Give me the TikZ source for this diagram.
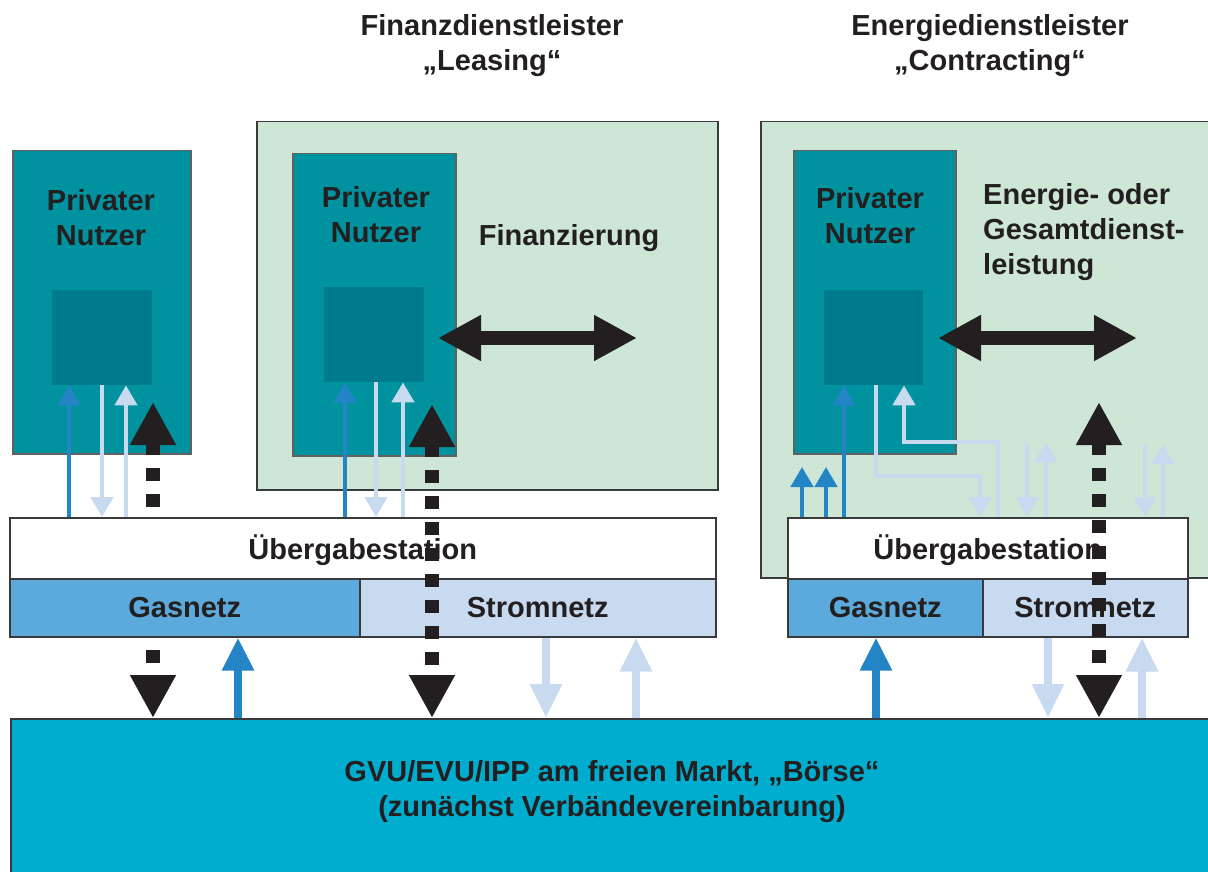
\documentclass[tikz,border=0pt]{standalone}
\usepackage{fontspec}
\setmainfont{Liberation Sans}
\usetikzlibrary{arrows.meta}
\definecolor{cteal}{HTML}{00939F}
\definecolor{cinner}{HTML}{007B8E}
\definecolor{cgreen}{HTML}{CDE6D5}
\definecolor{cgas}{HTML}{5CA9DC}
\definecolor{cstrom}{HTML}{C7DAF0}
\definecolor{cmarket}{HTML}{00ADCE}
\definecolor{cblue}{HTML}{2384C6}
\definecolor{clight}{HTML}{C7DAF0}
\definecolor{cblack}{HTML}{231F20}
\definecolor{cborder}{HTML}{3A3A3A}
\tikzset{
  txt/.style={font=\fontsize{29}{35}\selectfont\bfseries, align=center, inner sep=0pt, text=cblack},
  boxnw/.style={anchor=north west, inner sep=0pt, line width=1.5pt, draw=cborder},
  greenbox/.style={boxnw, fill=cgreen},
  privbox/.style={boxnw, fill=cteal, draw=cborder!80},
  innerbox/.style={anchor=north west, inner sep=0pt, fill=cinner},
  whitebox/.style={boxnw, fill=white},
  gasbox/.style={boxnw, fill=cgas},
  strombox/.style={boxnw, fill=cstrom},
  tb/.style={draw=cblue, line width=4.5pt, -{Triangle[width=22pt,length=20pt]}},
  tl/.style={draw=clight, line width=4.5pt, -{Triangle[width=22pt,length=20pt]}},
  fb/.style={draw=cblue, line width=8.5pt, -{Triangle[width=30pt,length=33pt]}},
  fl/.style={draw=clight, line width=8.5pt, -{Triangle[width=30pt,length=34pt]}},
  blk/.style={draw=cblack, line width=14pt, dash pattern=on 13pt off 13pt},
  bigtip/.tip={Triangle[width=43pt,length=43pt]},
  dbl/.style={draw=cblack, line width=14pt, bigtip-bigtip},
}
\begin{document}
\begin{tikzpicture}[x=1pt,y=-1pt]
\useasboundingbox (0,0) rectangle (1208,872);
% titles
\node[txt] (t1) at (492,46) {Finanzdienstleister\\„Leasing“};
\node[txt] (t2) at (990,46) {Energiedienstleister\\„Contracting“};
% green boxes
\node[greenbox, minimum width=461pt, minimum height=368pt] (g2) at (256,121) {};
\node[greenbox, minimum width=460pt, minimum height=456pt] (g3) at (760,121) {};
% private boxes
\node[privbox, minimum width=178pt, minimum height=303pt] (p1) at (12,150) {};
\node[privbox, minimum width=163pt, minimum height=302pt] (p2) at (292,153) {};
\node[privbox, minimum width=162pt, minimum height=303pt] (p3) at (793,150) {};
\node[innerbox, minimum width=100pt, minimum height=95pt] (i1) at (52,290) {};
\node[innerbox, minimum width=100pt, minimum height=95pt] (i2) at (324,287) {};
\node[innerbox, minimum width=99pt, minimum height=95pt] (i3) at (824,290) {};
\node[txt] (n1) at (101,218) {Privater\\Nutzer};
\node[txt] (n2) at (376,215) {Privater\\Nutzer};
\node[txt] (n3) at (870,216) {Privater\\Nutzer};
\node[txt] (fin) at (569,238) {Finanzierung};
\node[txt, align=left, anchor=west] (ene) at (983,232) {Energie- oder\\Gesamtdienst-\\leistung};
% stations and nets
\node[whitebox, minimum width=706pt, minimum height=61pt] (u1) at (9,517) {};
\node[gasbox, minimum width=350pt, minimum height=58pt] (gn1) at (9,578) {};
\node[strombox, minimum width=356pt, minimum height=58pt] (sn1) at (359,578) {};
\node[whitebox, minimum width=400pt, minimum height=61pt] (u2) at (787,517) {};
\node[gasbox, minimum width=195pt, minimum height=58pt] (gn2) at (787,578) {};
\node[strombox, minimum width=205pt, minimum height=58pt] (sn2) at (982,578) {};
\node[txt] (u1t) at ([yshift=-2pt]u1.center) {Übergabestation};
\node[txt] (u2t) at ([yshift=-2pt]u2.center) {Übergabestation};
\node[txt] (gn1t) at (gn1.center) {Gasnetz};
\node[txt] (sn1t) at (sn1.center) {Stromnetz};
\node[txt] (gn2t) at (gn2.center) {Gasnetz};
\node[txt] (sn2t) at (sn2.center) {Stromnetz};
% market
\node[boxnw, fill=cmarket, minimum width=1210pt, minimum height=160pt] (m) at (10,718) {};
\node[txt] (mt) at (612,792) {GVU/EVU/IPP am freien Markt, „Börse“\\(zunächst Verbändevereinbarung)};
% double arrows
\coordinate (fa) at (438,338); \coordinate (fb) at (637,338);
\coordinate (ea) at (938,338); \coordinate (eb) at (1137,338);
\draw[dbl] (fa) -- (fb);
\draw[dbl] (ea) -- (eb);
% left column
\draw[tb] (69,0 |- u1.north) -- (69,0 |- i1.south);
\draw[tl] (102,0 |- i1.south) -- (102,0 |- u1.north);
\draw[tl] (126,0 |- u1.north) -- (126,0 |- i1.south);
\coordinate (b1top) at (153,402); \coordinate (b1bot) at (153,507);
\draw[blk, bigtip-] (b1top) -- (b1bot);
\coordinate (b1c) at (153,650);
\draw[blk, -bigtip] (b1c) -- (153,0 |- m.north);
\draw[fb] (238,0 |- m.north) -- (238,0 |- gn1.south);
\draw[fl] (546,0 |- sn1.south) -- (546,0 |- m.north);
\draw[fl] (636,0 |- m.north) -- (636,0 |- sn1.south);
% middle column
\draw[tb] (345,0 |- u1.north) -- (345,0 |- i2.south);
\draw[tl] (376,0 |- i2.south) -- (376,0 |- u1.north);
\draw[tl] (403,0 |- u1.north) -- (403,0 |- i2.south);
\coordinate (b2top) at (432,404);
\draw[blk, bigtip-bigtip] (b2top) -- (432,0 |- m.north);
% right column
\coordinate (r1) at (802,467); \coordinate (r2) at (826,467);
\draw[tb] (802,0 |- u2.north) -- (r1);
\draw[tb] (826,0 |- u2.north) -- (r2);
\draw[tb] (844,0 |- u2.north) -- (844,0 |- i3.south);
\draw[tl] (876,0 |- i3.south) -- (876,476) -- (980,476) -- (980,0 |- u2.north);
\draw[tl] (998,0 |- u2.north) -- (998,442) -- (904,442) -- (904,0 |- i3.south);
\coordinate (r3) at (1027,443); \coordinate (r4) at (1046,442);
\coordinate (r5) at (1145,444); \coordinate (r6) at (1163,444);
\draw[tl] (r3) -- (1027,0 |- u2.north);
\draw[tl] (1046,0 |- u2.north) -- (r4);
\draw[tl] (r5) -- (1145,0 |- u2.north);
\draw[tl] (1163,0 |- u2.north) -- (r6);
\coordinate (b3top) at (1099,402);
\draw[blk, bigtip-bigtip] (b3top) -- (1099,0 |- m.north);
\draw[fb] (876,0 |- m.north) -- (876,0 |- gn2.south);
\draw[fl] (1048,0 |- sn2.south) -- (1048,0 |- m.north);
\draw[fl] (1142,0 |- m.north) -- (1142,0 |- sn2.south);
\end{tikzpicture}
\end{document}
